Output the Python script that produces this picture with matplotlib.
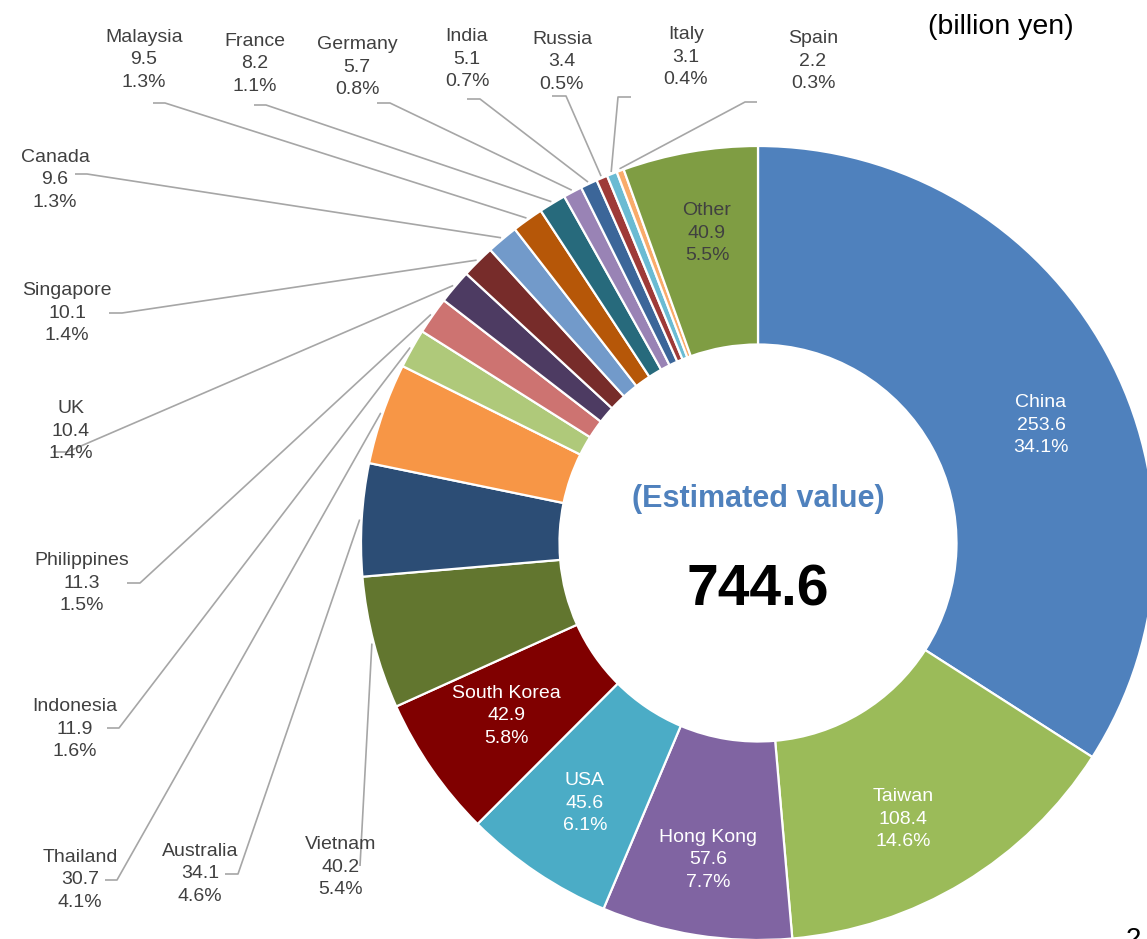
import numpy as np
import matplotlib
matplotlib.use('Agg')
import matplotlib.pyplot as plt

plt.rcParams['font.family'] = ['Liberation Sans', 'DejaVu Sans']

W, H = 1147, 939

# data (billion yen), clockwise from 12 o'clock
countries = ['China', 'Taiwan', 'Hong Kong', 'USA', 'South Korea', 'Vietnam',
             'Australia', 'Thailand', 'Indonesia', 'Philippines', 'UK',
             'Singapore', 'Canada', 'Malaysia', 'France', 'Germany', 'India',
             'Russia', 'Italy', 'Spain', 'Other']
values = [253.6, 108.4, 57.6, 45.6, 42.9, 40.2, 34.1, 30.7, 11.9, 11.3, 10.4,
          10.1, 9.6, 9.5, 8.2, 5.7, 5.1, 3.4, 3.1, 2.2, 40.9]
shares = ['34.1%', '14.6%', '7.7%', '6.1%', '5.8%', '5.4%', '4.6%', '4.1%',
          '1.6%', '1.5%', '1.4%', '1.4%', '1.3%', '1.3%', '1.1%', '0.8%',
          '0.7%', '0.5%', '0.4%', '0.3%', '5.5%']
total_label = '744.6'

colors = ['#4F81BD', '#9BBB59', '#8064A2', '#4BACC6', '#800000', '#62762F',
          '#2C4D75', '#F79646', '#AFC97A', '#CD7371', '#4D3B62', '#772C2A',
          '#729ACA', '#B65708', '#276A7C', '#9983B5', '#3C6699', '#9E3A38',
          '#6BBBD3', '#F9AB6B', '#7F9D43']

# label layout in image pixels (x, y of middle line)
inner_pos = {'China': (1041, 425), 'Taiwan': (903, 819), 'Hong Kong': (708, 860),
             'USA': (585, 803), 'South Korea': (506, 716), 'Other': (707, 233)}
outer_pos = {'Malaysia': (144, 60), 'France': (255, 64), 'Germany': (357, 67),
             'India': (467, 59), 'Russia': (562, 62), 'Italy': (686, 57),
             'Spain': (813, 61), 'Canada': (55, 180), 'Singapore': (67, 313),
             'UK': (71, 431), 'Philippines': (82, 583), 'Indonesia': (75, 729),
             'Thailand': (80, 880), 'Australia': (200, 874), 'Vietnam': (341, 867)}
# leader elbows: (x joined to slice, x of outer end, y)
elbows = {'Malaysia': (165, 153, 103), 'France': (266, 254, 105),
          'Germany': (390, 377, 103), 'India': (480, 467, 99),
          'Russia': (566, 552, 96), 'Italy': (618, 631, 97),
          'Spain': (745, 757, 102), 'Canada': (87, 75, 174),
          'Singapore': (122, 109, 313), 'UK': (67, 53, 452),
          'Philippines': (140, 127, 583), 'Indonesia': (119, 107, 728),
          'Thailand': (117, 105, 880), 'Australia': (238, 225, 874),
          'Vietnam': (360, 360, 866)}

fig = plt.figure(figsize=(W / 100, H / 100), dpi=100)
ax = fig.add_axes([0, 0, 1, 1])

cx, cy, R = 758, H - 543, 397
wedges, _ = ax.pie(values, colors=colors, startangle=90, counterclock=False,
                   radius=R, center=(cx, cy),
                   wedgeprops=dict(width=R * 0.5, edgecolor='white', linewidth=1.6))
ax.set_xlim(0, W)
ax.set_ylim(0, H)
ax.set_aspect('equal')
ax.axis('off')

for name, val, sh, w in zip(countries, values, shares, wedges):
    txt = '%s\n%.1f\n%s' % (name, val, sh)
    if name in inner_pos:
        x, y = inner_pos[name]
        col = '#404040' if name == 'Other' else 'white'
        ax.text(x, H - y, txt, ha='center', va='center', fontsize=14,
                color=col, linespacing=1.42)
    else:
        x, y = outer_pos[name]
        ax.text(x, H - y, txt, ha='center', va='center', fontsize=14,
                color='#404040', linespacing=1.42)
        a = np.deg2rad((w.theta1 + w.theta2) / 2)
        ex, ey = cx + R * 1.005 * np.cos(a), cy + R * 1.005 * np.sin(a)
        xc, xf, ye = elbows[name]
        ax.plot([xf, xc, ex], [H - ye, H - ye, ey], color='#A6A6A6', lw=1.2,
                solid_capstyle='butt', zorder=0)

ax.text(cx, H - 499, '(Estimated value)', ha='center', va='center',
        fontsize=22, fontweight='bold', color='#4F81BD')
ax.text(cx, H - 590, total_label, ha='center', va='center',
        fontsize=41, fontweight='bold', color='black')
ax.text(1001, H - 27, '(billion yen)', ha='center', va='center',
        fontsize=20.5, color='black')
# page number, cut by the bottom edge as in the source slide
ax.text(1133, H - 927, '2', ha='center', va='top', fontsize=20, color='black')

fig.savefig('out.png', dpi=100)
